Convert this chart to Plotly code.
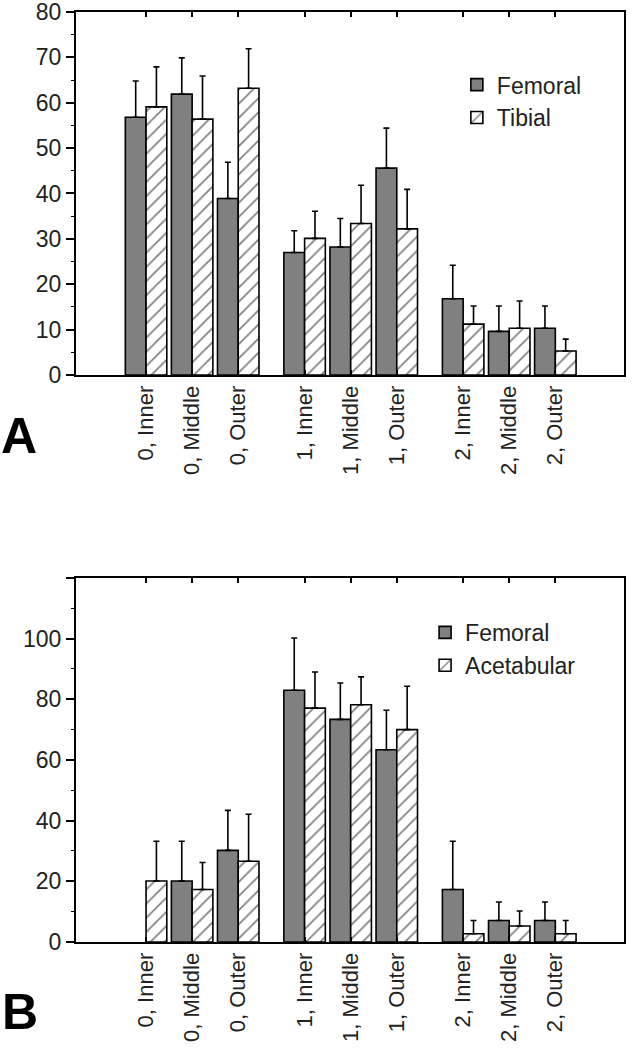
import plotly.graph_objects as go

categories = ["0, Inner", "0, Middle", "0, Outer",
              "1, Inner", "1, Middle", "1, Outer",
              "2, Inner", "2, Middle", "2, Outer"]

# Panel A
a_femoral = [56.8, 61.9, 38.9, 27.0, 28.2, 45.6, 16.8, 9.6, 10.3]
a_femoral_err = [8.0, 8.0, 8.0, 4.8, 6.3, 8.8, 7.4, 5.6, 4.9]
a_tibial = [59.1, 56.4, 63.2, 30.1, 33.4, 32.2, 11.2, 10.3, 5.3]
a_tibial_err = [8.8, 9.5, 8.7, 6.0, 8.4, 8.7, 4.0, 6.0, 2.6]
a_yticks = [0, 10, 20, 30, 40, 50, 60, 70, 80]

# Panel B
b_femoral = [None, 20.1, 30.2, 83.0, 73.4, 63.4, 17.3, 7.1, 7.1]
b_femoral_err = [None, 13.1, 13.2, 17.2, 12.0, 13.0, 15.9, 6.1, 6.1]
b_acetabular = [20.1, 17.3, 26.6, 77.1, 78.2, 70.0, 2.7, 5.3, 2.7]
b_acetabular_err = [13.1, 8.9, 15.5, 11.9, 9.2, 14.3, 4.4, 4.9, 4.4]
b_yticks = [0, 20, 40, 60, 80, 100, 120]
b_yticktext = ["0", "20", "40", "60", "80", "100", ""]

GROUP_STEP = 3.44
xpos = [(i // 3) * GROUP_STEP + (i % 3) for i in range(len(categories))]
XRANGE = [-1.52, 10.37]
BW = 0.45
FONT = "Liberation Sans, Arial, sans-serif"
TXT = "#222222"
GRAY = "#808080"
FS = 23

fig = go.Figure()


def err(vals):
    return dict(type="data", symmetric=False, array=vals,
                arrayminus=[0 if v is not None else None for v in vals],
                color="black", thickness=1.6, width=3)


def solid(name, y, e, xa, ya, leg):
    return go.Bar(x=xpos, y=y, name=name, width=BW, offset=-BW,
                  marker=dict(color=GRAY, line=dict(color="black", width=1.6)),
                  error_y=err(e), xaxis=xa, yaxis=ya, legend=leg)


def hatched(name, y, e, xa, ya, leg):
    return go.Bar(x=xpos, y=y, name=name, width=BW, offset=0,
                  marker=dict(color="white", line=dict(color="black", width=1.6),
                              pattern=dict(shape="/", fgcolor="black", bgcolor="white",
                                           size=10, solidity=0.17)),
                  error_y=err(e), xaxis=xa, yaxis=ya, legend=leg)


fig.add_trace(solid("Femoral", a_femoral, a_femoral_err, "x", "y", "legend"))
fig.add_trace(hatched("Tibial", a_tibial, a_tibial_err, "x", "y", "legend"))
fig.add_trace(solid("Femoral", b_femoral, b_femoral_err, "x2", "y2", "legend2"))
fig.add_trace(hatched("Acetabular", b_acetabular, b_acetabular_err, "x2", "y2", "legend2"))

xcommon = dict(range=XRANGE, tickmode="array", tickvals=xpos, ticktext=categories,
               tickangle=-90, ticks="inside", ticklen=5, tickwidth=1.5, tickcolor="black",
               showline=True, linecolor="black", linewidth=2, mirror="ticks",
               showgrid=False, zeroline=False, automargin=False,
               ticklabeloverflow="allow",
               tickfont=dict(family=FONT, size=FS - 1, color=TXT))

ycommon = dict(ticks="outside", ticklen=8, tickwidth=1.5, tickcolor="black",
               showline=True, linecolor="black", linewidth=2, mirror=True,
               showgrid=False, zeroline=False, automargin=False,
               ticklabeloverflow="allow",
               tickfont=dict(family=FONT, size=FS, color=TXT))

fig.update_layout(
    width=633, height=1049,
    margin=dict(l=76, r=9, t=12, b=107),
    plot_bgcolor="white", paper_bgcolor="white",
    barmode="overlay",
    font=dict(family=FONT, color=TXT, size=FS),
    xaxis=dict(domain=[0, 1], anchor="y", **xcommon),
    xaxis2=dict(domain=[0, 1], anchor="y2", **xcommon),
    yaxis=dict(domain=[0.6097, 1.0], anchor="x", range=[0, 80],
               tickmode="array", tickvals=a_yticks,
               minor=dict(dtick=5, ticks="outside", ticklen=3, tickcolor="black", tickwidth=1.2),
               **ycommon),
    yaxis2=dict(domain=[0, 0.3914], anchor="x2", range=[0, 120],
                tickmode="array", tickvals=b_yticks, ticktext=b_yticktext,
                minor=dict(dtick=10, ticks="outside", ticklen=3, tickcolor="black", tickwidth=1.2),
                **ycommon),
    yaxis3=dict(overlaying="y", side="right", anchor="x", range=[0, 80],
                tickmode="array", tickvals=a_yticks,
                ticks="inside", ticklen=5, tickwidth=1.5, tickcolor="black", automargin=False,
                showticklabels=False, showline=False, showgrid=False, zeroline=False),
    yaxis4=dict(overlaying="y2", side="right", anchor="x2", range=[0, 120],
                tickmode="array", tickvals=b_yticks,
                ticks="inside", ticklen=5, tickwidth=1.5, tickcolor="black", automargin=False,
                showticklabels=False, showline=False, showgrid=False, zeroline=False),
    legend=dict(x=0.695, y=0.945, xanchor="left", yanchor="top", bgcolor="rgba(0,0,0,0)",
                font=dict(family=FONT, size=FS, color=TXT)),
    legend2=dict(x=0.637, y=0.356, xanchor="left", yanchor="top", bgcolor="rgba(0,0,0,0)",
                 font=dict(family=FONT, size=FS, color=TXT)),
    annotations=[
        dict(text="<b>A</b>", x=-0.104, y=0.544, xref="paper", yref="paper",
             xanchor="center", yanchor="middle",
             showarrow=False, font=dict(family=FONT, size=50, color="black")),
        dict(text="<b>B</b>", x=-0.102, y=-0.0753, xref="paper", yref="paper",
             xanchor="center", yanchor="middle",
             showarrow=False, font=dict(family=FONT, size=50, color="black")),
    ],
)

fig.write_html("out.html",
               config={"displayModeBar": False},
               post_script="document.body.style.margin='0px';"
                           "document.documentElement.style.overflow='hidden';")
